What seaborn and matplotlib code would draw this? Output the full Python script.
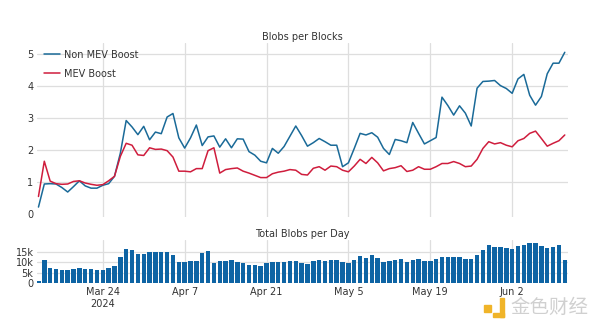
import matplotlib
matplotlib.use("Agg")
import matplotlib.pyplot as plt
import matplotlib.dates as mdates
from matplotlib.patches import Rectangle
import numpy as np
import pandas as pd
import seaborn as sns

# Daily observations since Dencun activation
dates = pd.date_range("2024-03-13", "2024-06-11", freq="D")

non_mev_boost = [0.22, 0.94, 0.95, 0.94, 0.83, 0.69, 0.86, 1.04, 0.88, 0.81, 0.81, 0.90, 0.95, 1.18,
                 1.90, 2.92, 2.72, 2.48, 2.74, 2.32, 2.56, 2.51, 3.03, 3.14,
                 2.38, 2.06, 2.38, 2.78, 2.14, 2.41, 2.44, 2.09, 2.35, 2.07,
                 2.35, 2.34, 1.95, 1.84, 1.65, 1.60, 2.05, 1.90, 2.11, 2.43,
                 2.75,
                 2.45, 2.12, 2.23, 2.36, 2.26, 2.15, 2.15, 1.48, 1.60, 2.05,
                 2.52, 2.47, 2.54, 2.40, 2.05, 1.86, 2.33, 2.29, 2.23, 2.86,
                 2.52, 2.19, 2.29, 2.39, 3.65, 3.39, 3.09, 3.38, 3.15, 2.75,
                 3.93, 4.14, 4.15, 4.17, 4.01, 3.92, 3.77, 4.22, 4.36, 3.71,
                 3.40, 3.67, 4.38, 4.71, 4.71, 5.05]

mev_boost = [0.55, 1.65, 1.03, 0.95, 0.93, 0.94, 1.02, 1.04, 0.97, 0.93, 0.90, 0.92, 1.04, 1.18,
             1.80, 2.21, 2.15, 1.85, 1.83, 2.07, 2.02, 2.03, 1.98, 1.78,
             1.34, 1.34, 1.32, 1.42, 1.42, 1.98, 2.07, 1.28, 1.39, 1.42,
             1.44, 1.34, 1.28, 1.21, 1.14, 1.14, 1.26, 1.31, 1.34, 1.39,
             1.37,
             1.24, 1.22, 1.43, 1.48, 1.37, 1.50, 1.48, 1.37, 1.32, 1.50,
             1.71, 1.58, 1.77, 1.60, 1.35, 1.42, 1.45, 1.51, 1.33, 1.37,
             1.48, 1.40, 1.40, 1.48, 1.58, 1.58, 1.64, 1.58, 1.48, 1.50,
             1.71, 2.05, 2.26, 2.19, 2.23, 2.15, 2.10, 2.29, 2.36, 2.52,
             2.59, 2.36, 2.12, 2.21, 2.29, 2.47]

# Total blobs per day, in thousands
blobs_k = [1.3, 11.2, 7.3, 6.6, 6.5, 6.5, 6.9, 7.4, 6.9, 6.6, 6.5, 6.2, 7.1, 8.2,
           12.3, 16.4, 15.8, 13.9, 13.9, 14.8, 14.8, 14.8, 14.8, 13.4,
           10.1, 10.1, 10.7, 10.4, 14.4, 15.2, 9.5, 10.4, 10.4, 10.9,
           10.1, 9.6, 8.8, 8.5, 8.4, 9.5, 10.0, 10.0, 10.3, 10.4,
           10.4, 9.5, 9.3, 10.6, 11.1, 10.4, 11.1, 11.1, 10.0, 9.8,
           10.9, 12.8, 12.0, 13.4, 12.2, 10.3, 10.6, 11.1, 11.5, 10.3,
           11.1, 11.5, 10.7, 10.7, 11.4, 12.5, 12.5, 12.6, 12.5, 11.7,
           11.7, 13.6, 16.0, 17.9, 17.1, 17.2, 16.6, 16.3, 17.7, 18.3,
           19.0, 19.1, 17.7, 16.6, 17.4, 18.2, 11.1]

series_names = ["Non MEV Boost", "MEV Boost"]
tick_dates = ["2024-03-24", "2024-04-07", "2024-04-21", "2024-05-05", "2024-05-19", "2024-06-02"]
tick_labels = ["Mar 24\n2024", "Apr 7", "Apr 21", "May 5", "May 19", "Jun 2"]
top_yticks = [0, 1, 2, 3, 4, 5]
bottom_yticks = [0, 5, 10, 15]
bottom_ylabels = ["0", "5k", "10k", "15k"]

colors = {"Non MEV Boost": "#1a6a98", "MEV Boost": "#cf1d3d"}
bar_color = "#0e64a4"
grid_color = "#dedede"
text_color = "#333333"

sns.set_style("white")
plt.rcParams["font.family"] = ["DejaVu Sans", "Noto Sans CJK SC"]

x = mdates.date2num(dates)
df = pd.DataFrame({"x": x, "Non MEV Boost": non_mev_boost, "MEV Boost": mev_boost, "blobs": blobs_k})
long_df = df.melt(id_vars="x", value_vars=series_names, var_name="series", value_name="value")

fig = plt.figure(figsize=(6, 3.28), dpi=100)
W, H = 600, 328
ax1 = fig.add_axes([37 / W, 1 - 217 / H, 531 / W, 174 / H])
ax2 = fig.add_axes([37 / W, 1 - 283.3 / H, 531 / W, 43.3 / H])

sns.lineplot(data=long_df, x="x", y="value", hue="series", hue_order=series_names,
             palette=colors, linewidth=1.1, ax=ax1)
sns.barplot(data=df, x="x", y="blobs", native_scale=True, color=bar_color, saturation=1,
            width=0.76, linewidth=0, errorbar=None, ax=ax2)

xticks = mdates.date2num(pd.to_datetime(tick_dates))
xmin, xmax = x[0] - 0.25, x[-1] + 0.55

for ax in (ax1, ax2):
    ax.set_xlim(xmin, xmax)
    ax.set_xticks(xticks)
    ax.grid(True, color=grid_color, linewidth=0.9)
    ax.set_axisbelow(True)
    ax.tick_params(length=0, labelsize=7, colors=text_color, pad=2.5)
    ax.set_xlabel("")
    ax.set_ylabel("")
    for s in ax.spines.values():
        s.set_visible(False)

ax1.set_ylim(-0.09, 5.34)
ax1.set_yticks(top_yticks)
ax1.set_xticklabels([])
ax1.get_ygridlines()[0].set_visible(False)

ax2.set_ylim(0, 20.5)
ax2.set_yticks(bottom_yticks)
ax2.set_yticklabels(bottom_ylabels)
ax2.set_xticklabels(tick_labels, linespacing=1.25)

leg = ax1.legend(loc="upper left", bbox_to_anchor=(0.0, 1.0), frameon=False, fontsize=7,
                 handlelength=1.7, handletextpad=0.35, labelspacing=0.9, borderaxespad=0.5,
                 borderpad=0.2)
for t in leg.get_texts():
    t.set_color(text_color)

fig.text(302 / W, 1 - 37 / H, "Blobs per Blocks", ha="center", va="center", fontsize=7, color=text_color)
fig.text(302 / W, 1 - 234 / H, "Total Blobs per Day", ha="center", va="center", fontsize=7, color=text_color)

# Publisher mark in the lower right corner
gold = "#f0b429"
fig.patches.append(Rectangle((484 / W, 1 - 312 / H), 7 / W, 7 / H, transform=fig.transFigure,
                             color=gold, zorder=5))
fig.patches.append(Rectangle((493 / W, 1 - 317 / H), 11 / W, 4 / H, transform=fig.transFigure,
                             color=gold, zorder=5))
fig.patches.append(Rectangle((500 / W, 1 - 317 / H), 4 / W, 19 / H, transform=fig.transFigure,
                             color=gold, zorder=5))
fig.text(549 / W, 1 - 307 / H, "金色财经", ha="center", va="center", fontsize=14,
         color="#d0d0d0", family=["Noto Sans CJK SC"])

fig.savefig("out.png", dpi=100)
